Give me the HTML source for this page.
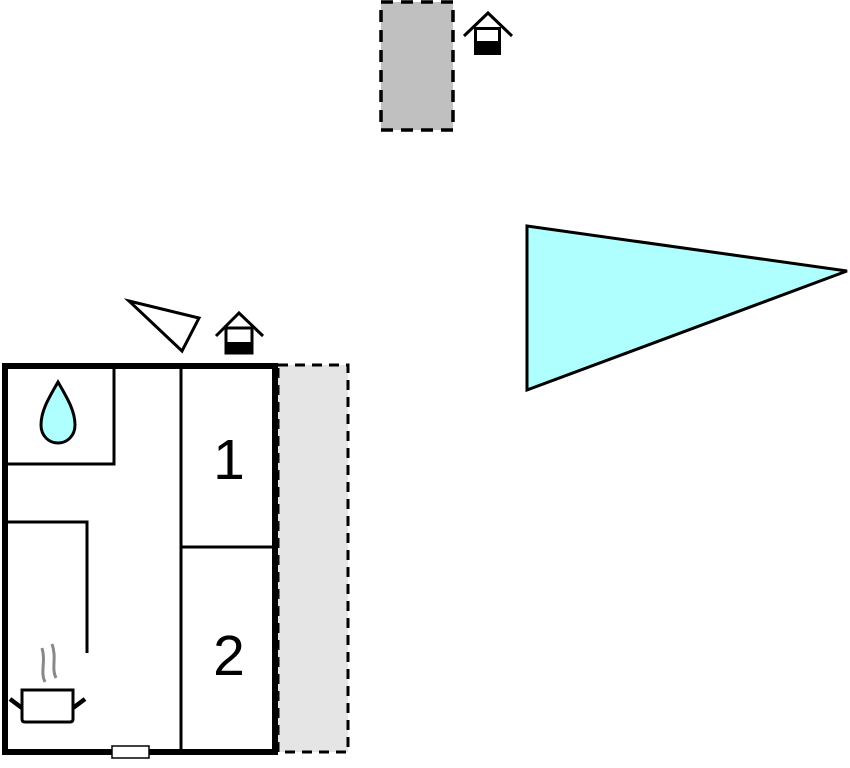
<!DOCTYPE html>
<html><head><meta charset="utf-8"><style>html,body{margin:0;padding:0;background:#fff;}svg{display:block}</style></head>
<body>
<svg width="850" height="768" viewBox="0 0 850 768" xmlns="http://www.w3.org/2000/svg">
<rect x="381" y="2" width="72" height="128" fill="#c0c0c0" stroke="#000" stroke-width="3.5" stroke-dasharray="12,8"/>
<g stroke="#000" stroke-width="3" fill="none">
<polyline points="464,36 488,13 512,36"/>
<rect x="475.5" y="28.5" width="24" height="25" fill="#fff"/>
</g>
<rect x="475" y="41" width="25" height="13" fill="#000"/>
<polygon points="527,226 847,271 527,390" fill="#b0ffff" stroke="#000" stroke-width="3"/>
<polygon points="129,301 199,318 182,351" fill="#fff" stroke="#000" stroke-width="3"/>
<g stroke="#000" stroke-width="3" fill="none">
<polyline points="216,336 239,313 263,336"/>
<rect x="226" y="328" width="26" height="25" fill="#fff"/>
</g>
<rect x="225" y="342" width="28" height="12" fill="#000"/>
<rect x="278" y="365" width="70" height="387" fill="#e5e5e5" stroke="#000" stroke-width="3" stroke-dasharray="10,7"/>
<rect x="5" y="366" width="270" height="386" fill="#fff" stroke="#000" stroke-width="6"/>
<g stroke="#000" stroke-width="3" fill="none">
<line x1="181" y1="366" x2="181" y2="752"/>
<line x1="181" y1="547" x2="274" y2="547"/>
<polyline points="6,464 114,464 114,366"/>
<polyline points="6,522 87,522 87,653"/>
</g>
<path d="M58,382 C50,396 41,410 41,425 C41,436 49,443 58,443 C67,443 75,436 75,425 C75,410 66,396 58,382 Z" fill="#b0ffff" stroke="#000" stroke-width="3"/>
<text x="229" y="479" font-family="Liberation Sans, sans-serif" font-size="57" text-anchor="middle">1</text>
<text x="229" y="675" font-family="Liberation Sans, sans-serif" font-size="57" text-anchor="middle">2</text>
<g stroke="#888" stroke-width="3" fill="none">
<path d="M45,682 C40,672 46,662 42,648"/>
<path d="M56,678 C51,668 57,658 52,644"/>
</g>
<g stroke="#000" stroke-width="3" fill="none">
<path d="M22,690 L73,690 L73,719 Q73,722 70,722 L25,722 Q22,722 22,719 Z" fill="#fff"/>
<line x1="10" y1="699" x2="22" y2="708" stroke-width="4.5"/>
<line x1="73" y1="708" x2="85" y2="699" stroke-width="4.5"/>
</g>
<rect x="112" y="746" width="37" height="12" fill="#fff" stroke="#000" stroke-width="1.5"/>
</svg>
</body></html>
